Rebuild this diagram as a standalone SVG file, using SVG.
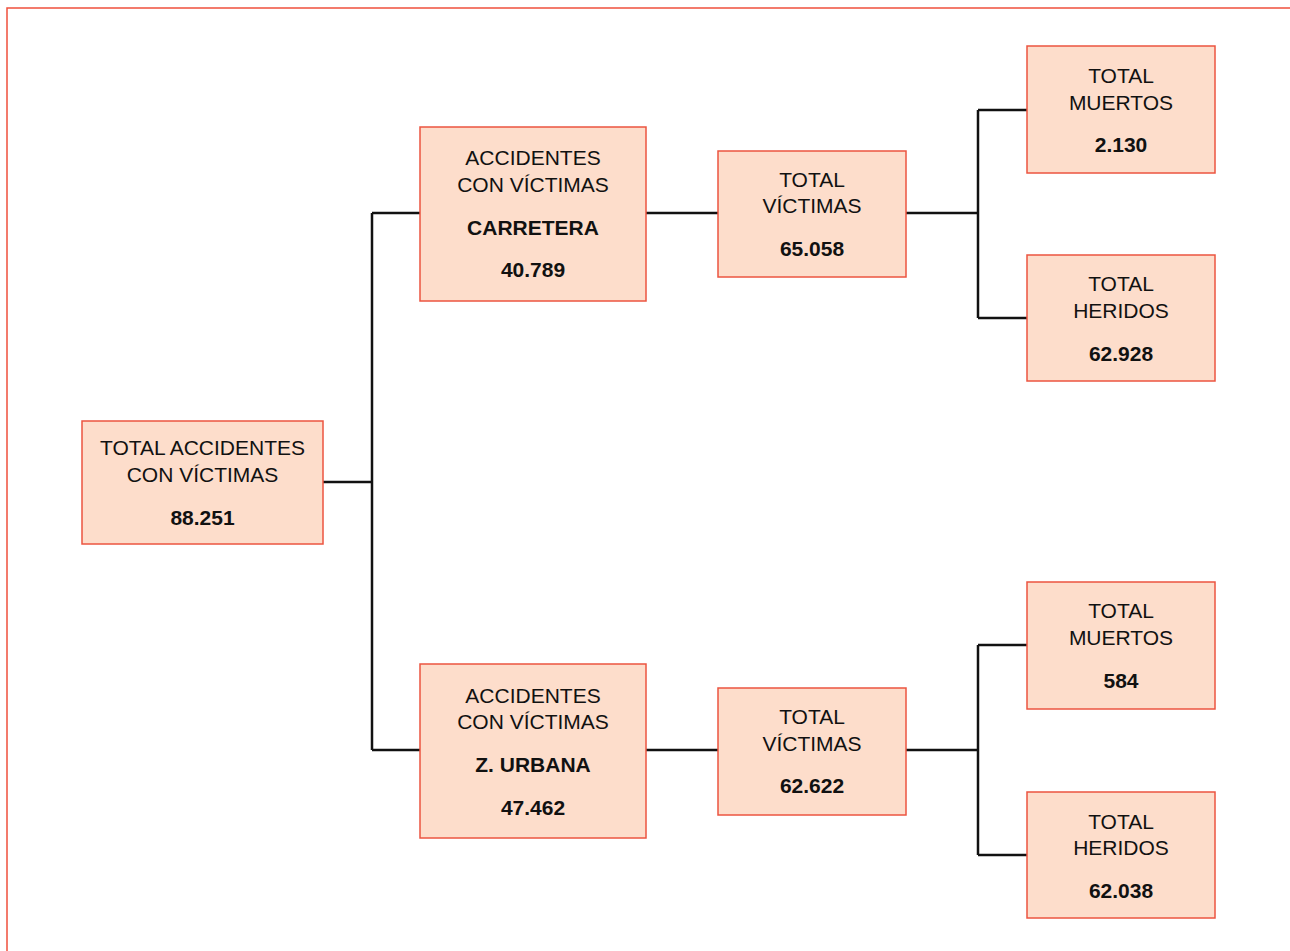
<svg xmlns="http://www.w3.org/2000/svg" width="1290" height="951" viewBox="0 0 1290 951">
<style>
.box{fill:#FDDDCB;stroke:#EC5440;stroke-width:1.5}
.t{font-family:"Liberation Sans",Arial,sans-serif;font-size:21px;fill:#111;text-anchor:middle}
.b{font-weight:bold}
.c{fill:none;stroke:#111;stroke-width:2.5}
</style>
<rect x="0" y="0" width="1290" height="951" fill="#fff"/>
<rect x="7" y="8" width="1300" height="960" fill="none" stroke="#F0503C" stroke-width="1.5"/>
<g id="connectors">
<path class="c" d="M323 482H372M372 213V750M372 213H420M372 750H420"/>
<path class="c" d="M646 213H718M906 213H978M978 110V318M978 110H1027M978 318H1027"/>
<path class="c" d="M646 750H718M906 750H978M978 645V855M978 645H1027M978 855H1027"/>
</g>
<g id="root">
<rect class="box" x="82" y="421" width="241" height="123"/>
<text class="t" x="202.5" y="455">TOTAL ACCIDENTES</text>
<text class="t" x="202.5" y="482">CON VÍCTIMAS</text>
<text class="t b" x="202.5" y="525">88.251</text>
</g>
<g id="carretera">
<rect class="box" x="420" y="127" width="226" height="174"/>
<text class="t" x="533" y="165">ACCIDENTES</text>
<text class="t" x="533" y="192">CON VÍCTIMAS</text>
<text class="t b" x="533" y="235">CARRETERA</text>
<text class="t b" x="533" y="277">40.789</text>
</g>
<g id="victimas-carretera">
<rect class="box" x="718" y="151" width="188" height="126"/>
<text class="t" x="812" y="187">TOTAL</text>
<text class="t" x="812" y="213">VÍCTIMAS</text>
<text class="t b" x="812" y="256">65.058</text>
</g>
<g id="muertos-carretera">
<rect class="box" x="1027" y="46" width="188" height="127"/>
<text class="t" x="1121" y="83">TOTAL</text>
<text class="t" x="1121" y="110">MUERTOS</text>
<text class="t b" x="1121" y="152">2.130</text>
</g>
<g id="heridos-carretera">
<rect class="box" x="1027" y="255" width="188" height="126"/>
<text class="t" x="1121" y="291">TOTAL</text>
<text class="t" x="1121" y="318">HERIDOS</text>
<text class="t b" x="1121" y="361">62.928</text>
</g>
<g id="urbana">
<rect class="box" x="420" y="664" width="226" height="174"/>
<text class="t" x="533" y="703">ACCIDENTES</text>
<text class="t" x="533" y="729">CON VÍCTIMAS</text>
<text class="t b" x="533" y="772">Z. URBANA</text>
<text class="t b" x="533" y="815">47.462</text>
</g>
<g id="victimas-urbana">
<rect class="box" x="718" y="688" width="188" height="127"/>
<text class="t" x="812" y="724">TOTAL</text>
<text class="t" x="812" y="751">VÍCTIMAS</text>
<text class="t b" x="812" y="793">62.622</text>
</g>
<g id="muertos-urbana">
<rect class="box" x="1027" y="582" width="188" height="127"/>
<text class="t" x="1121" y="618">TOTAL</text>
<text class="t" x="1121" y="645">MUERTOS</text>
<text class="t b" x="1121" y="688">584</text>
</g>
<g id="heridos-urbana">
<rect class="box" x="1027" y="792" width="188" height="126"/>
<text class="t" x="1121" y="829">TOTAL</text>
<text class="t" x="1121" y="855">HERIDOS</text>
<text class="t b" x="1121" y="898">62.038</text>
</g>
</svg>
